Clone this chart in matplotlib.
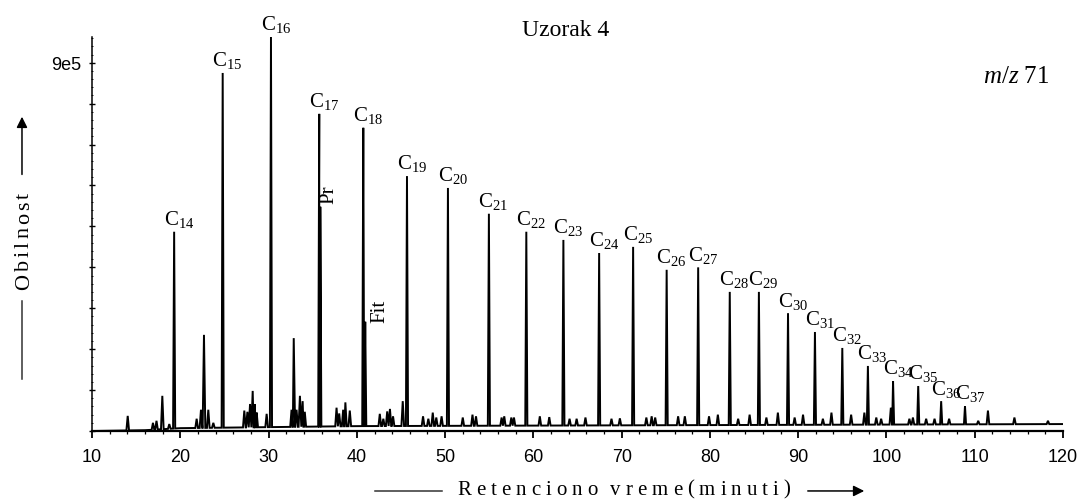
import numpy as np
import matplotlib
matplotlib.use('Agg')
import matplotlib.pyplot as plt
from matplotlib.ticker import MultipleLocator, FuncFormatter

plt.rcParams['font.family'] = 'Liberation Sans'
plt.rcParams['mathtext.fontset'] = 'custom'
plt.rcParams['mathtext.rm'] = 'Liberation Serif'
plt.rcParams['mathtext.it'] = 'Liberation Serif:italic'
SERIF = 'Liberation Serif'

# n-alkanes C14..C37: retention time (min) and abundance (x1e5)
c_num = list(range(14, 38))
c_time = [19.3, 24.8, 30.27, 35.74, 40.73, 45.68, 50.32, 54.96, 59.2, 63.4, 67.45, 71.3,
          75.1, 78.67, 82.25, 85.55, 88.85, 91.9, 95.0, 97.9, 100.75, 103.6, 106.2, 108.9]
c_abund = [4.87, 8.75, 9.63, 7.75, 7.41, 6.23, 5.94, 5.31, 4.87, 4.67, 4.35, 4.5,
           3.94, 4.0, 3.40, 3.40, 2.88, 2.42, 2.03, 1.59, 1.22, 1.10, 0.73, 0.61]

# pristane / phytane
pr_time, pr_abund = 35.86, 5.48
fit_time, fit_abund = 40.95, 2.67

# unlabelled peaks
o_time = [14.04, 16.9, 17.3, 17.96, 18.75, 21.85, 22.34, 22.68, 23.17, 23.74, 27.25, 27.6,
          27.9, 28.2, 28.45, 28.65, 29.78, 32.6, 32.85, 33.17, 33.55, 33.86, 34.1, 37.7,
          38.0, 38.45, 38.7, 39.2, 42.6, 43.0, 43.44, 43.75, 44.1, 45.2, 47.5, 48.1,
          48.6, 49.0, 49.6, 52.0, 53.1, 53.5, 56.4, 56.7, 57.5, 57.8, 60.73, 61.8,
          64.1, 64.9, 65.9, 68.85, 69.8, 72.8, 73.4, 73.8, 76.4, 77.16, 79.9, 80.9,
          83.2, 84.5, 86.4, 87.7, 89.6, 90.55, 92.8, 93.77, 96.0, 97.5, 98.85, 99.4,
          100.5, 102.6, 103.0, 104.5, 105.45, 107.1, 110.4, 111.5, 114.5, 118.3]
o_abund = [0.37, 0.2, 0.25, 0.86, 0.17, 0.3, 0.52, 2.35, 0.52, 0.2, 0.5, 0.47,
           0.66, 0.98, 0.66, 0.45, 0.42, 0.52, 2.27, 0.52, 0.86, 0.73, 0.47, 0.57,
           0.43, 0.52, 0.7, 0.5, 0.42, 0.3, 0.48, 0.54, 0.36, 0.73, 0.36, 0.3,
           0.45, 0.33, 0.36, 0.33, 0.4, 0.36, 0.33, 0.36, 0.33, 0.33, 0.36, 0.34,
           0.3, 0.3, 0.33, 0.3, 0.31, 0.33, 0.36, 0.33, 0.36, 0.36, 0.36, 0.4,
           0.3, 0.4, 0.33, 0.45, 0.33, 0.4, 0.3, 0.45, 0.4, 0.45, 0.33, 0.3,
           0.57, 0.3, 0.33, 0.3, 0.3, 0.3, 0.25, 0.5, 0.33, 0.25]

# baseline level
base_time = [10, 16, 20, 40, 120]
base_abund = [0.0, 0.02, 0.07, 0.12, 0.17]

scale = 1e5

fig = plt.figure(figsize=(10.83, 5.02), dpi=100)
ax = fig.add_axes([0.085, 0.1394, 0.8965, 0.785])

# build the trace: spikes on top of the baseline
pk_t = c_time + [pr_time, fit_time] + o_time
pk_a = c_abund + [pr_abund, fit_abund] + o_abund
pk_w = [0.12] * (len(c_time) + 2) + [0.15] * len(o_time)
tx = list(base_time)
ty = list(base_abund)
for t, a, w in zip(pk_t, pk_a, pk_w):
    b = np.interp([t - w, t + w], base_time, base_abund)
    tx += [t - w, t, t + w]
    ty += [b[0], a, b[1]]
order = np.argsort(tx, kind='stable')
tx = np.array(tx)[order]
ty = np.array(ty)[order] * scale
ax.plot(tx, ty, color='black', lw=1.4, solid_joinstyle='miter')

ax.set_xlim(10, 120)
ax.set_ylim(0, 9.63e5)
ax.spines['top'].set_visible(False)
ax.spines['right'].set_visible(False)
ax.spines['left'].set_linewidth(1.1)
ax.spines['bottom'].set_linewidth(1.6)

ax.xaxis.set_major_locator(MultipleLocator(10))
ax.xaxis.set_minor_locator(MultipleLocator(2))
ax.yaxis.set_major_locator(MultipleLocator(1e5))
ax.yaxis.set_minor_locator(MultipleLocator(2e4))
ax.yaxis.set_major_formatter(FuncFormatter(lambda v, p: '9e5' if abs(v - 9e5) < 1 else ''))
ax.tick_params(axis='x', which='major', direction='out', length=5, width=1.3, pad=7, labelsize=13)
ax.tick_params(axis='x', which='minor', direction='out', length=2.5, width=0.9)
ax.tick_params(axis='y', which='major', direction='inout', length=4, width=1.0, pad=6, labelsize=13)
ax.tick_params(axis='y', which='minor', direction='inout', length=2, width=0.6)

# peak labels
for n, t, a in zip(c_num, c_time, c_abund):
    ax.annotate('C$_{%d}$' % n, (t, a * scale), xytext=(-7.5, 5.5), textcoords='offset points',
                ha='left', va='baseline', fontsize=15, family=SERIF)
ax.annotate('Pr', (pr_time, pr_abund * scale), xytext=(-0.5, 3), textcoords='offset points',
            rotation=90, ha='left', va='bottom', fontsize=15, family=SERIF)
ax.annotate('Fit', (fit_time, fit_abund * scale), xytext=(4, 0), textcoords='offset points',
            rotation=90, ha='left', va='bottom', fontsize=15, family=SERIF)

fig.text(0.522, 0.94, 'Uzorak 4', ha='center', va='center', fontsize=17, family=SERIF)
fig.text(0.908, 0.847, '$m/z$ 71', ha='left', va='center', fontsize=18, family=SERIF)


def spread_text(s, x, y, gap, size, vertical=False):
    # letter-spaced label, each char placed after the previous one
    if vertical:
        kw = dict(rotation=90, rotation_mode='anchor', ha='left', va='baseline')
    else:
        kw = dict(ha='left', va='baseline')
    t = fig.text(x, y, s[0], fontsize=size, family=SERIF, **kw)
    extra = 0
    for ch in s[1:]:
        if ch == ' ':
            extra = 1.5 * gap
            continue
        if vertical:
            t = ax.annotate(ch, xy=(x, 1), xycoords=('figure fraction', t), xytext=(0, gap + extra),
                            textcoords='offset points', fontsize=size, family=SERIF,
                            annotation_clip=False, **kw)
        else:
            t = ax.annotate(ch, xy=(1, y), xycoords=(t, 'figure fraction'), xytext=(gap + extra, 0),
                            textcoords='offset points', fontsize=size, family=SERIF,
                            annotation_clip=False, **kw)
        extra = 0


spread_text('Retenciono vreme(minuti)', 0.422, 0.014, 3.6, 15)
spread_text('Obilnost', 0.0265, 0.422, 2.2, 16, vertical=True)

# axis arrows
lc = '#333333'
fig.add_artist(plt.Line2D([375 / 1083, 442 / 1083], [0.02, 0.02], color=lc, lw=1.1, transform=fig.transFigure))
ax.annotate('', xy=(867 / 1083, 0.02), xycoords='figure fraction', xytext=(805 / 1083, 0.02),
            textcoords='figure fraction', arrowprops=dict(arrowstyle='-|>', color='black', lw=1.1, mutation_scale=16),
            annotation_clip=False)
fig.add_artist(plt.Line2D([0.0203, 0.0203], [0.243, 0.398], color=lc, lw=1.1, transform=fig.transFigure))
ax.annotate('', xy=(0.0203, 0.771), xycoords='figure fraction', xytext=(0.0203, 0.645),
            textcoords='figure fraction', arrowprops=dict(arrowstyle='-|>', color='black', lw=1.1, mutation_scale=16),
            annotation_clip=False)

fig.savefig('out.png', dpi=100)
